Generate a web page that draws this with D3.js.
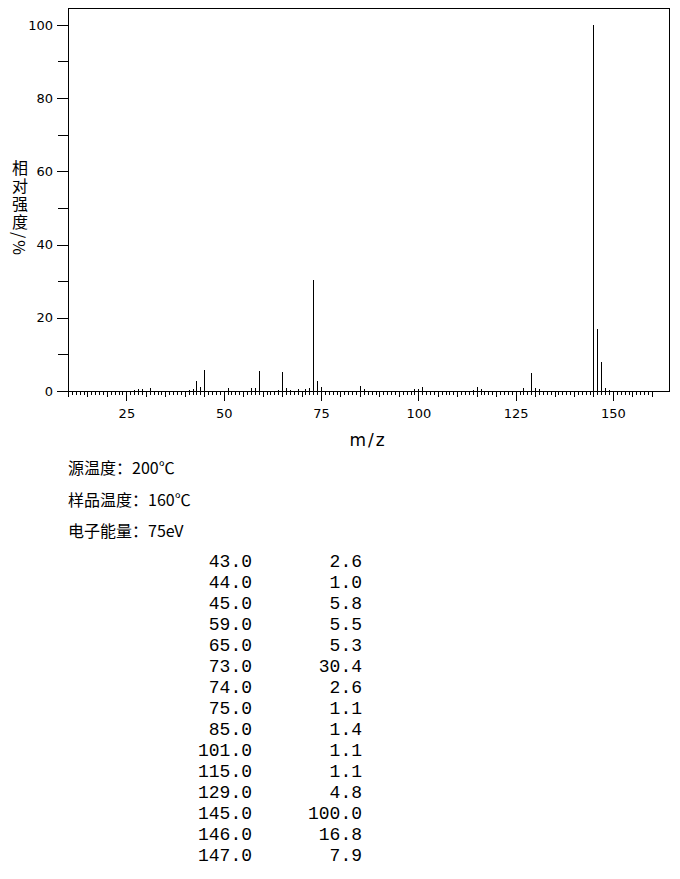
<!DOCTYPE html>
<html>
<head>
<meta charset="utf-8">
<script src="https://cdn.jsdelivr.net/npm/d3@7"></script>
<style>
  html, body { margin: 0; padding: 0; background: #fff; }
  svg { display: block; }
</style>
</head>
<body>
<svg id="chart" width="680" height="879"></svg>
<script>
// ---- Data ----
// Listed peaks (m/z, relative intensity %)
const peakMz        = [43, 44, 45, 59, 65, 73, 74, 75, 85, 101, 115, 129, 145, 146, 147];
const peakIntensity = [2.6, 1.0, 5.8, 5.5, 5.3, 30.4, 2.6, 1.1, 1.4, 1.1, 1.1, 4.8, 100.0, 16.8, 7.9];
// Small unlisted peaks
const minorMz        = [27, 28, 29, 31, 41, 42, 51, 57, 58, 64, 66, 67, 69, 71, 72, 86, 99, 100, 114, 116, 127, 130, 131, 148, 149];
const minorIntensity = [0.4, 0.5, 0.5, 0.8, 0.3, 0.5, 0.8, 0.8, 0.9, 0.4, 0.8, 0.4, 0.5, 0.6, 0.8, 0.5, 0.5, 0.6, 0.4, 0.5, 0.7, 0.9, 0.5, 0.8, 0.4];
// Axis ticks
const xTickLabels = [25, 50, 75, 100, 125, 150];
const yTickLabels = [0, 20, 40, 60, 80, 100];
const yMinorTicks = [10, 30, 50, 70, 90];
const xDomain = [10, 164.4];
const yDomain = [0, 104.6];
const xTickRange = [10, 160];
// Texts
const yTitle = "相对强度/%";
const xTitle = "m/z";
const infoLines = ["源温度：200℃", "样品温度：160℃", "电子能量：75eV"];

// ---- Layout ----
const svg = d3.select("#chart");
const mLeft = 68, mRight = 669, mTop = 8, mBottom = 391;
const x = d3.scaleLinear().domain(xDomain).range([mLeft, mRight]);
const y = d3.scaleLinear().domain(yDomain).range([mBottom, mTop]);

const axisFont = "'DejaVu Sans', Verdana, sans-serif";
const cjkFont = "'Noto Sans CJK SC', 'Noto Sans', sans-serif";

// frame
svg.append("path")
  .attr("d", `M${x(xDomain[0]) + 0.5},${y(0)}V${y(yDomain[1]) + 0.5}H${x(xDomain[1]) + 0.5}V${y(0)}`)
  .attr("fill", "none").attr("stroke", "#000").attr("stroke-width", 1)
  .attr("shape-rendering", "crispEdges");

// peaks
const allPeaks = peakMz.map((m, i) => ({m, v: peakIntensity[i]}))
  .concat(minorMz.map((m, i) => ({m, v: minorIntensity[i]})));
svg.append("g").selectAll("line").data(allPeaks).join("line")
  .attr("x1", d => Math.round(x(d.m)) + 0.5).attr("x2", d => Math.round(x(d.m)) + 0.5)
  .attr("y1", y(0)).attr("y2", d => y(d.v))
  .attr("stroke", "#000").attr("stroke-width", 1)
  .attr("shape-rendering", "crispEdges");

// x minor ticks
const xTicks = d3.range(xTickRange[0], xTickRange[1] + 1);
svg.append("g").selectAll("line").data(xTicks.filter(t => t % 25 !== 0)).join("line")
  .attr("x1", d => Math.round(x(d)) + 0.5).attr("x2", d => Math.round(x(d)) + 0.5)
  .attr("y1", y(0)).attr("y2", d => y(0) + (d % 5 === 0 ? 6 : 4))
  .attr("stroke", "#000").attr("shape-rendering", "crispEdges");

// x axis (major)
const gx = svg.append("g").attr("transform", `translate(0,${y(0)})`)
  .call(d3.axisBottom(x).tickValues(xTickLabels).tickSize(10).tickPadding(8));
gx.select(".domain").attr("d", `M${x(xDomain[0])},0.5H${x(xDomain[1]) + 1}`).attr("shape-rendering", "crispEdges");
gx.selectAll(".tick line").attr("shape-rendering", "crispEdges");
gx.selectAll("text").attr("font-family", axisFont).attr("font-size", 13).attr("fill", "#000");

// y axis
const gy = svg.append("g").attr("transform", `translate(${mLeft},0)`)
  .call(d3.axisLeft(y).tickValues(yTickLabels).tickSize(11).tickPadding(4));
gy.select(".domain").remove();
gy.selectAll(".tick line").attr("shape-rendering", "crispEdges");
gy.selectAll("text").attr("font-family", axisFont).attr("font-size", 13).attr("fill", "#000");
svg.append("g").selectAll("line").data(yMinorTicks).join("line")
  .attr("x1", mLeft - 10).attr("x2", mLeft)
  .attr("y1", d => Math.round(y(d)) + 0.5).attr("y2", d => Math.round(y(d)) + 0.5)
  .attr("stroke", "#000").attr("shape-rendering", "crispEdges");

// y title (vertical)
svg.append("text")
  .attr("x", 20).attr("y", 160)
  .attr("font-family", cjkFont).attr("font-size", 16)
  .style("writing-mode", "vertical-rl")
  .style("letter-spacing", "2px")
  .attr("fill", "#000")
  .text(yTitle);

// x title
svg.append("text")
  .attr("x", 368).attr("y", 446)
  .attr("text-anchor", "middle")
  .attr("font-family", axisFont).attr("font-size", 17)
  .style("letter-spacing", "2px")
  .attr("fill", "#000")
  .text(xTitle);

// info lines
svg.append("g").selectAll("text").data(infoLines).join("text")
  .attr("x", 68).attr("y", (d, i) => 474 + i * 31.5)
  .attr("font-family", cjkFont).attr("font-size", 16)
  .attr("fill", "#000")
  .text(d => d);

// table
const fmt = d3.format(".1f");
const rows = svg.append("g").selectAll("g").data(peakMz.map((m, i) => [m, peakIntensity[i]])).join("g")
  .attr("transform", (d, i) => `translate(0,${567 + i * 21})`);
rows.append("text").attr("x", 252).attr("text-anchor", "end")
  .attr("font-family", "'Liberation Mono', 'Courier New', monospace").attr("font-size", 18)
  .attr("fill", "#000").text(d => fmt(d[0]));
rows.append("text").attr("x", 362).attr("text-anchor", "end")
  .attr("font-family", "'Liberation Mono', 'Courier New', monospace").attr("font-size", 18)
  .attr("fill", "#000").text(d => fmt(d[1]));
</script>
</body>
</html>
